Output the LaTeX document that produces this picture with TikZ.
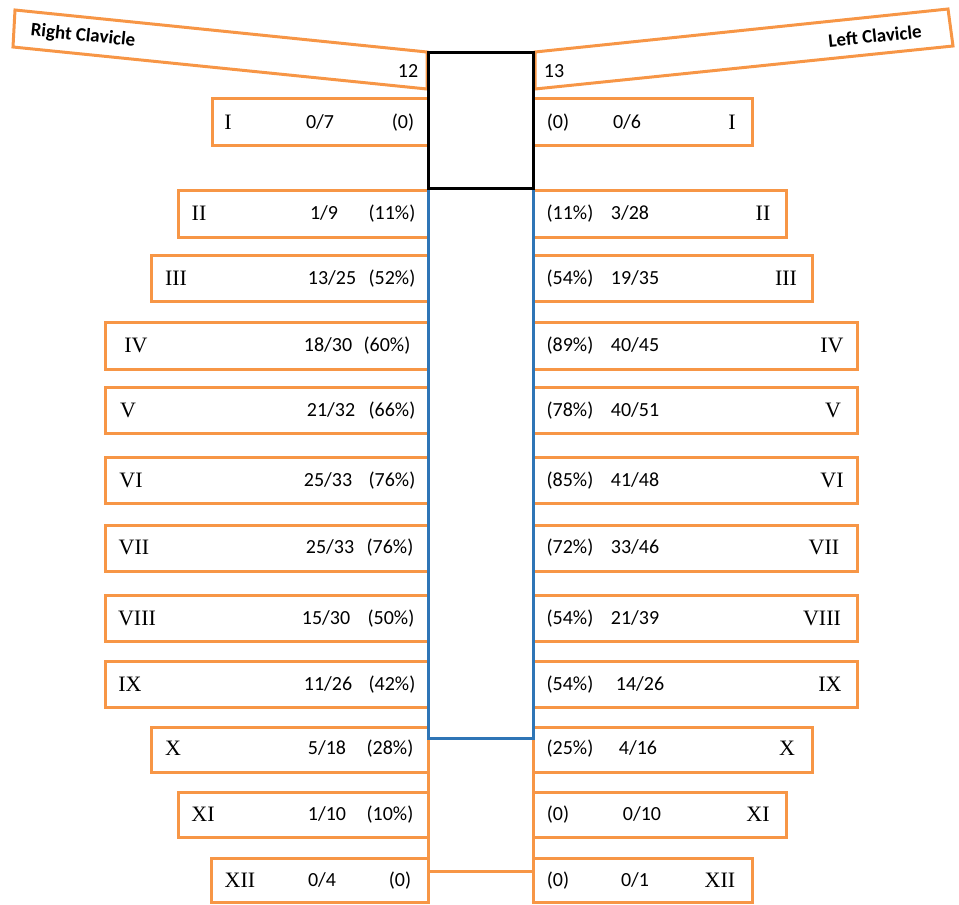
\documentclass[tikz,border=0pt]{standalone}
\usepackage{fontspec}
\setmainfont{Carlito}
\newfontfamily\romanfont{Liberation Serif}
\definecolor{ribor}{RGB}{247,150,70}
\definecolor{sternblue}{RGB}{46,117,182}
\tikzset{
  rib/.style={draw=ribor, line width=3pt, inner sep=0pt, outer sep=0pt, anchor=north west},
  num/.style={font=\romanfont\fontsize{22}{24}\selectfont, text height=14.5pt, text depth=0pt, inner sep=0pt},
  val/.style={font=\fontsize{20}{23}\selectfont, text height=13pt, text depth=0pt, inner sep=0pt},
  bone/.style={font=\bfseries\fontsize{19}{22}\selectfont, inner sep=0pt}
}
\begin{document}
\begin{tikzpicture}[x=1pt, y=-1pt]
\useasboundingbox (0,0) rectangle (959,905);

% clavicles
\draw[draw=ribor, line width=3pt, line join=miter] (15,10) -- (427,52) -- (427,89) -- (13,47) -- cycle;
\draw[draw=ribor, line width=3pt, line join=miter] (535,52) -- (948,9) -- (953,46) -- (535,89) -- cycle;
\node[bone, rotate=-5.8] (rclav) at (83,36) {Right Clavicle};
\node[bone, rotate=5.9] (lclav) at (875,36) {Left Clavicle};
\node[val] (n12) at (408,71) {12};
\node[val] (n13) at (554,71) {13};

% right side of the body (drawn on the left)
\node[rib, minimum width=216pt, minimum height=47pt] (lI) at (212,98) {};
\node[rib, minimum width=250pt, minimum height=47pt] (lII) at (178,190) {};
\node[rib, minimum width=277pt, minimum height=46pt] (lIII) at (151,255) {};
\node[rib, minimum width=323pt, minimum height=47pt] (lIV) at (105,322) {};
\node[rib, minimum width=323pt, minimum height=46pt] (lV) at (105,387) {};
\node[rib, minimum width=323pt, minimum height=46pt] (lVI) at (105,457) {};
\node[rib, minimum width=323pt, minimum height=46pt] (lVII) at (105,525) {};
\node[rib, minimum width=323pt, minimum height=46pt] (lVIII) at (105,595) {};
\node[rib, minimum width=323pt, minimum height=46pt] (lIX) at (105,661) {};
\node[rib, minimum width=277pt, minimum height=45pt] (lX) at (151,727) {};
\node[rib, minimum width=250pt, minimum height=45pt] (lXI) at (178,792) {};
\node[rib, minimum width=217pt, minimum height=44pt] (lXII) at (211,858) {};

\node[num] (lI-n) at (228,122) {I};
\node[val] (lI-f) at (320,122) {0/7};
\node[val] (lI-p) at (403,122) {(0)};
\node[num] (lII-n) at (199,213) {II};
\node[val] (lII-f) at (324,213) {1/9};
\node[val] (lII-p) at (392,213) {(11\%)};
\node[num] (lIII-n) at (176,278) {III};
\node[val] (lIII-f) at (332,278) {13/25};
\node[val] (lIII-p) at (392,278) {(52\%)};
\node[num] (lIV-n) at (136,345) {IV};
\node[val] (lIV-f) at (328,345) {18/30};
\node[val] (lIV-p) at (387,345) {(60\%)};
\node[num] (lV-n) at (128,410) {V};
\node[val] (lV-f) at (331,410) {21/32};
\node[val] (lV-p) at (392,410) {(66\%)};
\node[num] (lVI-n) at (131,480) {VI};
\node[val] (lVI-f) at (328,480) {25/33};
\node[val] (lVI-p) at (392,480) {(76\%)};
\node[num] (lVII-n) at (134,547) {VII};
\node[val] (lVII-f) at (330,547) {25/33};
\node[val] (lVII-p) at (390,547) {(76\%)};
\node[num] (lVIII-n) at (137,618) {VIII};
\node[val] (lVIII-f) at (326,618) {15/30};
\node[val] (lVIII-p) at (391,618) {(50\%)};
\node[num] (lIX-n) at (130,684) {IX};
\node[val] (lIX-f) at (328,684) {11/26};
\node[val] (lIX-p) at (392,684) {(42\%)};
\node[num] (lX-n) at (173,748) {X};
\node[val] (lX-f) at (327,748) {5/18};
\node[val] (lX-p) at (390,748) {(28\%)};
\node[num] (lXI-n) at (203,814) {XI};
\node[val] (lXI-f) at (327,814) {1/10};
\node[val] (lXI-p) at (390,814) {(10\%)};
\node[num] (lXII-n) at (240,880) {XII};
\node[val] (lXII-f) at (322,880) {0/4};
\node[val] (lXII-p) at (400,880) {(0)};

% left side of the body (drawn on the right)
\node[rib, minimum width=219pt, minimum height=47pt] (rI) at (533,98) {};
\node[rib, minimum width=253pt, minimum height=47pt] (rII) at (533,190) {};
\node[rib, minimum width=279pt, minimum height=46pt] (rIII) at (533,255) {};
\node[rib, minimum width=324pt, minimum height=47pt] (rIV) at (533,322) {};
\node[rib, minimum width=324pt, minimum height=46pt] (rV) at (533,387) {};
\node[rib, minimum width=324pt, minimum height=46pt] (rVI) at (533,457) {};
\node[rib, minimum width=324pt, minimum height=46pt] (rVII) at (533,525) {};
\node[rib, minimum width=324pt, minimum height=46pt] (rVIII) at (533,595) {};
\node[rib, minimum width=324pt, minimum height=46pt] (rIX) at (533,661) {};
\node[rib, minimum width=279pt, minimum height=45pt] (rX) at (533,727) {};
\node[rib, minimum width=253pt, minimum height=45pt] (rXI) at (533,792) {};
\node[rib, minimum width=219pt, minimum height=44pt] (rXII) at (533,858) {};

\node[val] (rI-p) at (558,122) {(0)};
\node[val] (rI-f) at (627,122) {0/6};
\node[num] (rI-n) at (732,122) {I};
\node[val] (rII-p) at (570,213) {(11\%)};
\node[val] (rII-f) at (630,213) {3/28};
\node[num] (rII-n) at (763,213) {II};
\node[val] (rIII-p) at (570,278) {(54\%)};
\node[val] (rIII-f) at (635,278) {19/35};
\node[num] (rIII-n) at (786,278) {III};
\node[val] (rIV-p) at (570,345) {(89\%)};
\node[val] (rIV-f) at (635,345) {40/45};
\node[num] (rIV-n) at (832,345) {IV};
\node[val] (rV-p) at (570,410) {(78\%)};
\node[val] (rV-f) at (635,410) {40/51};
\node[num] (rV-n) at (833,410) {V};
\node[val] (rVI-p) at (570,480) {(85\%)};
\node[val] (rVI-f) at (635,480) {41/48};
\node[num] (rVI-n) at (832,480) {VI};
\node[val] (rVII-p) at (570,547) {(72\%)};
\node[val] (rVII-f) at (635,547) {33/46};
\node[num] (rVII-n) at (824,547) {VII};
\node[val] (rVIII-p) at (570,618) {(54\%)};
\node[val] (rVIII-f) at (635,618) {21/39};
\node[num] (rVIII-n) at (822,618) {VIII};
\node[val] (rIX-p) at (570,684) {(54\%)};
\node[val] (rIX-f) at (640,684) {14/26};
\node[num] (rIX-n) at (830,684) {IX};
\node[val] (rX-p) at (570,748) {(25\%)};
\node[val] (rX-f) at (638,748) {4/16};
\node[num] (rX-n) at (787,748) {X};
\node[val] (rXI-p) at (558,814) {(0)};
\node[val] (rXI-f) at (642,814) {0/10};
\node[num] (rXI-n) at (758,814) {XI};
\node[val] (rXII-p) at (558,880) {(0)};
\node[val] (rXII-f) at (635,880) {0/1};
\node[num] (rXII-n) at (720,880) {XII};

% sternum
\draw[draw=ribor, line width=3pt] (428,738) -- (428,871) -- (533,871) -- (533,738);
\draw[draw=sternblue, line width=3pt] (428,188) -- (428,738) -- (533,738) -- (533,188);
\draw[line width=3pt] (428,52) rectangle (533,188);
\end{tikzpicture}
\end{document}
